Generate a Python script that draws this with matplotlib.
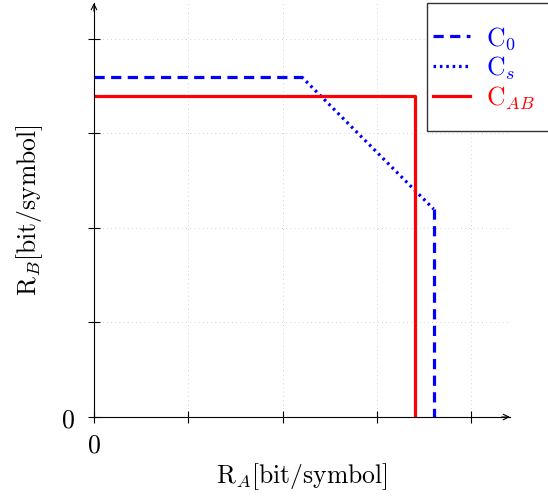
import matplotlib
matplotlib.use("Agg")
import matplotlib.pyplot as plt
from matplotlib.patches import Rectangle

plt.rcParams["mathtext.fontset"] = "cm"
plt.rcParams["font.family"] = "serif"
plt.rcParams["font.serif"] = ["DejaVu Serif"]

# capacity region corners [R_A, R_B] in tick units
c0_horiz_x = [0.0, 2.2]
c0_horiz_y = [3.6, 3.6]
c0_vert_x = [3.6, 3.6]
c0_vert_y = [2.2, 0.0]
cs_x = [2.2, 3.6]
cs_y = [3.6, 2.2]
cab_x = [0.0, 3.4, 3.4]
cab_y = [3.4, 3.4, 0.0]
ticks = [0, 1, 2, 3, 4]
tick_labels = ["0", "", "", "", ""]

blue = "#0000ff"
red = "#ff0000"
fs = 18.5

fig = plt.figure(figsize=(5.48, 5.0), dpi=100)
ax = fig.add_axes([94 / 548, 83 / 500, 416 / 548, 414 / 500])
ax.set_xlim(0, 4.41)
ax.set_ylim(0, 4.38)

for s in ["top", "right"]:
    ax.spines[s].set_visible(False)
ax.spines["left"].set_linewidth(0.8)
ax.spines["bottom"].set_linewidth(0.8)

# arrow heads on axes
ax.annotate("", xy=(1.0, 0), xytext=(0.98, 0), xycoords="axes fraction",
            arrowprops=dict(arrowstyle="->", lw=0.8, color="k", shrinkA=0, shrinkB=0))
ax.annotate("", xy=(0, 1.0), xytext=(0, 0.98), xycoords="axes fraction",
            arrowprops=dict(arrowstyle="->", lw=0.8, color="k", shrinkA=0, shrinkB=0))

ax.set_xticks(ticks)
ax.set_yticks(ticks)
ax.set_xticklabels([r"$%s$" % l if l else "" for l in tick_labels])
ax.set_yticklabels([r"$%s$" % l if l else "" for l in tick_labels])
ax.tick_params(direction="inout", length=9, width=0.8, labelsize=fs)
ax.tick_params(axis="x", pad=7)
ax.tick_params(axis="y", pad=9)
ax.grid(True, linestyle=(0, (1, 4)), color="#c4c4c4", lw=0.6)

ax.plot(c0_horiz_x, c0_horiz_y, color=blue, lw=2.3, ls=(0, (3.2, 2)), label=r"$\mathrm{C}_0$")
ax.plot(cs_x, cs_y, color=blue, lw=2.3, ls=(0, (0.8, 1.2)), label=r"$\mathrm{C}_s$")
ax.plot(cab_x, cab_y, color=red, lw=2.3, label=r"$\mathrm{C}_{AB}$")
ax.plot(c0_vert_x, c0_vert_y, color=blue, lw=2.3, ls=(0, (3.2, 2)))

ax.set_xlabel(r"$\mathrm{R}_A[\mathrm{bit/symbol}]$", fontsize=fs, labelpad=2)
ax.set_ylabel(r"$\mathrm{R}_B[\mathrm{bit/symbol}]$", fontsize=fs, labelpad=12)

# legend frame drawn separately (box runs off the right edge)
fig.patches.append(Rectangle((427 / 548, 1 - 131 / 500), 140 / 548, 128 / 500,
                             transform=fig.transFigure, fill=True, facecolor="white",
                             edgecolor="#333333", lw=1.0, zorder=5))
leg = fig.legend(loc="upper left", bbox_to_anchor=(433 / 548, 1 - 25 / 500),
                 fontsize=fs, frameon=False, handlelength=1.45,
                 borderpad=0.0, labelspacing=0.1, handletextpad=0.6, borderaxespad=0)
leg.set_zorder(6)
for txt, c in zip(leg.get_texts(), [blue, blue, red]):
    txt.set_color(c)

fig.savefig("out.png", dpi=100)
